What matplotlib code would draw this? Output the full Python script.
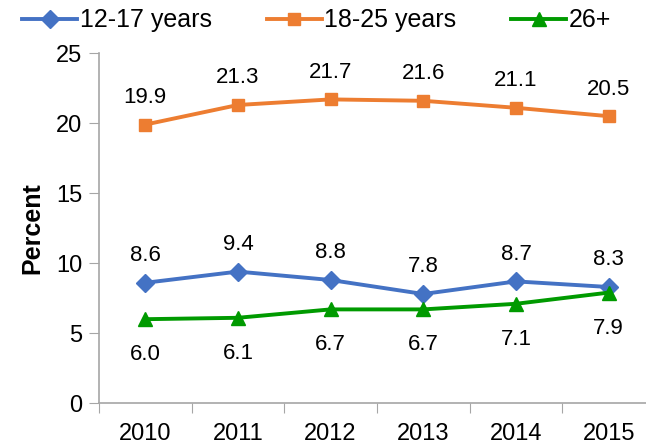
import matplotlib.pyplot as plt

plt.rcParams['font.family'] = ['Liberation Sans', 'DejaVu Sans']

years = ['2010', '2011', '2012', '2013', '2014', '2015']
age_12_17 = [8.6, 9.4, 8.8, 7.8, 8.7, 8.3]
age_18_25 = [19.9, 21.3, 21.7, 21.6, 21.1, 20.5]
age_26_plus = [6.0, 6.1, 6.7, 6.7, 7.1, 7.9]

series = [
    ('12-17 years', age_12_17, '#4472C4', 'D', 9, 12),
    ('18-25 years', age_18_25, '#ED7D31', 's', 9, 12),
    ('26+', age_26_plus, '#009A00', '^', 10, -18),
]

fig = plt.figure(figsize=(6.46, 4.47), dpi=100)
ax = fig.add_axes([0.153, 0.098, 0.861, 0.783])
x = range(len(years))

for name, vals, color, marker, ms, off in series:
    ax.plot(x, vals, color=color, lw=2.8, marker=marker, ms=ms, label=name)
    for i, v in enumerate(vals):
        ax.annotate('%.1f' % v, (i, v), xytext=(0, off), textcoords='offset points',
                    ha='center', va='bottom' if off > 0 else 'top', fontsize=16)

ax.set_xlim(-0.5, 5.5)
ax.set_ylim(0, 25)
ax.set_yticks([0, 5, 10, 15, 20, 25])
ax.set_xticks([i - 0.5 for i in range(7)])
ax.set_xticklabels([])
ax.set_xticks(list(x), minor=True)
ax.set_xticklabels(years, minor=True)
ax.tick_params(axis='x', which='minor', length=0, labelsize=17, pad=14)
ax.tick_params(axis='x', which='major', length=7, color='#A6A6A6', direction='out')
ax.tick_params(axis='y', labelsize=17, length=7, color='#A6A6A6', pad=5)
for s in ['top', 'right']:
    ax.spines[s].set_visible(False)
for s in ['left', 'bottom']:
    ax.spines[s].set_color('#A6A6A6')
    ax.spines[s].set_linewidth(1.2)
ax.set_ylabel('Percent', fontsize=18, fontweight='bold', labelpad=8)

fig.legend(loc='upper center', bbox_to_anchor=(0.49, 1.015), ncol=3, frameon=False,
           fontsize=18, handlelength=2.2, handletextpad=0.1, columnspacing=2.2,
           borderaxespad=0.2)

fig.savefig('out.png', dpi=100)
